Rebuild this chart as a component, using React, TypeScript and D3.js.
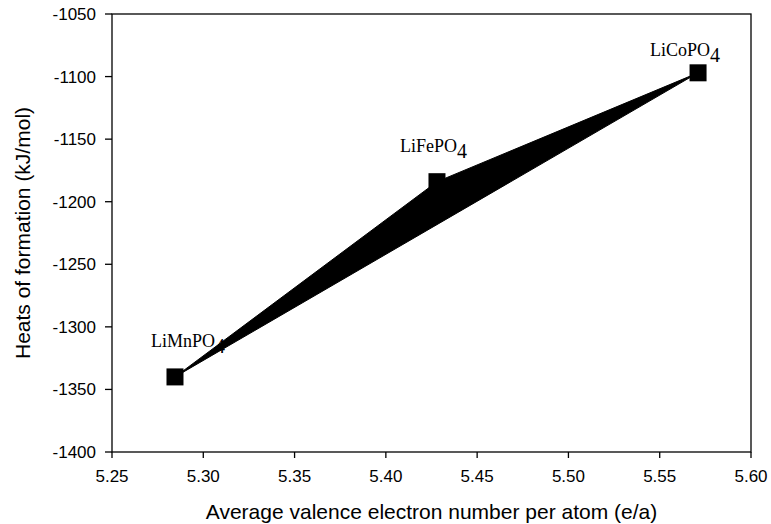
import React from "react";
import * as d3 from "d3";

// compounds and values
const compounds = ["LiMnPO", "LiFePO", "LiCoPO"];
const valence = [5.2845, 5.428, 5.571];
const heats = [-1340, -1184, -1097];

const xTicks = [5.25, 5.3, 5.35, 5.4, 5.45, 5.5, 5.55, 5.6];
const yTicks = [-1400, -1350, -1300, -1250, -1200, -1150, -1100, -1050];

const App = () => {
  const W = 771;
  const H = 524;
  const margin = { top: 14, right: 20, bottom: 72, left: 112 };

  const x = d3.scaleLinear().domain([5.25, 5.6]).range([margin.left, W - margin.right]);
  const y = d3.scaleLinear().domain([-1400, -1050]).range([H - margin.bottom, margin.top]);

  const pts = valence.map((v, i) => ({ v, h: heats[i], name: compounds[i] }));

  // closed path filled black (as in the original)
  const area = d3
    .line<{ v: number; h: number }>()
    .x((d) => x(d.v))
    .y((d) => y(d.h));
  const pathD = area(pts) + "Z";

  // pixel offsets of the labels from their markers
  const labelOffsets = [
    [-24, -30],
    [-37, -30],
    [-48, -17],
  ];

  const sans = "'Liberation Sans', Arial, sans-serif";
  const serif = "'Liberation Serif', 'Times New Roman', serif";
  const x0 = margin.left;
  const x1 = W - margin.right;
  const y0 = H - margin.bottom;
  const y1 = margin.top;
  const sq = 17;

  return (
    <svg width={W} height={H} style={{ position: "absolute", left: 0, top: 0 }}>
      <rect width={W} height={H} fill="white" />
      {/* frame */}
      <rect x={x0} y={y1} width={x1 - x0} height={y0 - y1} fill="none" stroke="black" strokeWidth={1.3} />

      {/* x ticks */}
      {xTicks.map((t) => (
        <g key={t}>
          <line x1={x(t)} x2={x(t)} y1={y0} y2={y0 + 6} stroke="black" strokeWidth={1.3} />
          <text x={x(t)} y={y0 + 30} textAnchor="middle" fontFamily={sans} fontSize={17}>
            {d3.format(".2f")(t)}
          </text>
        </g>
      ))}

      {/* y ticks */}
      {yTicks.map((t) => (
        <g key={t}>
          <line x1={x0 - 7} x2={x0} y1={y(t)} y2={y(t)} stroke="black" strokeWidth={1.3} />
          <text x={x0 - 16} y={y(t)} dy="0.35em" textAnchor="end" fontFamily={sans} fontSize={17}>
            {t}
          </text>
        </g>
      ))}

      {/* axis titles */}
      <text x={(x0 + x1) / 2} y={H - 5} textAnchor="middle" fontFamily={sans} fontSize={21}>
        Average valence electron number per atom (e/a)
      </text>
      <text
        transform={`translate(30, ${(y0 + y1) / 2}) rotate(-90)`}
        textAnchor="middle"
        fontFamily={sans}
        fontSize={21}
      >
        Heats of formation (kJ/mol)
      </text>

      {/* data */}
      <path d={pathD} fill="black" stroke="black" strokeWidth={1} />
      {pts.map((d) => (
        <rect
          key={d.name}
          x={x(d.v) - sq / 2}
          y={y(d.h) - sq / 2}
          width={sq}
          height={sq}
          fill="black"
        />
      ))}

      {/* labels */}
      {pts.map((d, i) => (
        <text
          key={"l" + d.name}
          x={x(d.v) + labelOffsets[i][0]}
          y={y(d.h) + labelOffsets[i][1]}
          fontFamily={serif}
          fontSize={18}
        >
          {d.name}
          <tspan dy={6} fontSize={20}>
            4
          </tspan>
        </text>
      ))}
    </svg>
  );
};

export default App;
